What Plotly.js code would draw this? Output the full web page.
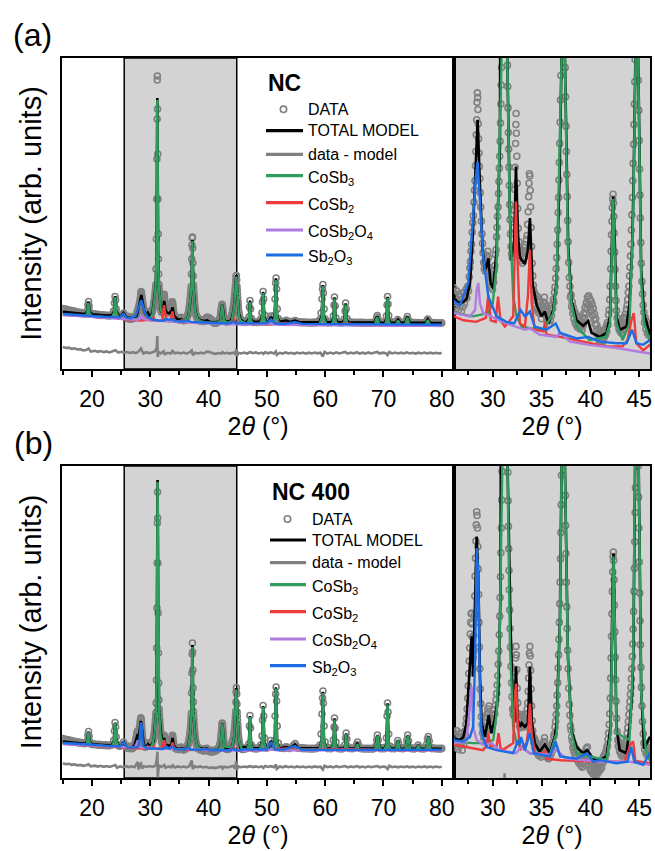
<!DOCTYPE html>
<html>
<head>
<meta charset="utf-8">
<script src="https://cdn.plot.ly/plotly-3.0.1.min.js"></script>
<style>
  html, body { margin: 0; padding: 0; background: #ffffff; }
  #chart { width: 655px; height: 851px; }
</style>
</head>
<body>
<div id="chart"></div>
<script>
// ---------------------------------------------------------------------------
// Rietveld refinement of XRD patterns, intensity in arbitrary units vs 2θ (°)
// Each list holds [2θ, intensity] pairs.
// ---------------------------------------------------------------------------

// ----- sample NC -----
const ncObs = [
  [15.0,60.5],[15.25,59.0],[15.5,60.0],[15.75,58.6],[16.0,59.2],[16.25,58.0],[16.5,58.4],[16.75,57.3],[17.0,57.9],[17.25,56.8],
  [17.5,57.0],[17.75,56.2],[18.0,56.6],[18.25,55.5],[18.5,55.9],[18.75,55.2],[19.0,55.8],[19.2,58.5],[19.3,64.0],[19.4,67.5],
  [19.5,63.0],[19.6,57.5],[19.8,55.5],[20.0,54.8],[20.25,55.3],[20.5,54.4],[20.75,54.9],[21.0,53.9],[21.25,54.5],[21.5,53.6],
  [21.75,54.2],[22.0,53.5],[22.25,54.0],[22.5,53.2],[22.75,53.8],[23.0,53.1],[23.25,53.7],[23.5,54.5],[23.7,58.0],[23.85,66.0],
  [23.95,72.5],[24.05,69.0],[24.15,60.0],[24.3,54.5],[24.5,53.5],[24.75,52.8],[25.0,53.4],[25.25,54.5],[25.4,56.0],[25.55,54.2],
  [25.75,52.6],
  [26.00,52.8],[26.08,50.6],[26.16,51.9],[26.24,50.2],[26.32,52.4],[26.40,51.0],[26.48,49.9],[26.56,52.0],[26.64,50.5],[26.72,51.6],
  [26.80,49.8],[26.88,51.3],[26.96,50.4],[27.04,52.2],[27.12,50.8],[27.20,51.7],[27.28,52.6],[27.36,51.5],[27.44,53.0],[27.52,52.4],
  [27.60,54.2],[27.66,55.3],[27.72,56.1],[27.78,57.4],[27.84,58.3],[27.90,59.8],[27.96,61.0],[28.02,61.9],[28.08,63.6],[28.14,65.1],
  [28.19,66.3],[28.24,68.2],[28.28,70.0],[28.32,72.1],[28.36,74.0],[28.40,76.2],[28.43,77.4],[28.46,76.8],[28.49,75.3],[28.52,73.5],
  [28.56,71.6],[28.60,69.8],[28.64,68.1],[28.68,66.6],[28.73,64.8],[28.78,63.0],[28.84,61.2],[28.90,59.6],[28.96,58.4],[29.02,57.2],
  [29.08,56.0],[29.14,55.2],[29.20,55.8],[29.26,54.9],[29.32,56.1],[29.38,56.9],[29.44,56.3],[29.50,57.4],[29.56,56.6],[29.62,55.4],
  [29.68,54.7],[29.74,53.6],[29.80,54.2],[29.86,52.9],[29.92,53.8],[29.98,52.6],[30.04,54.0],[30.10,53.5],[30.16,55.0],[30.22,55.6],
  [30.28,57.0],[30.34,57.6],[30.40,59.2],[30.45,60.4],[30.50,61.8],[30.55,63.0],[30.60,64.7],[30.64,66.2],[30.68,67.9],[30.72,69.4],
  [30.76,71.3],[30.80,73.6],[30.84,76.0],[30.87,78.4],[30.90,80.6],[30.93,84.0],[30.98,100],[31.04,130],[31.09,170],[31.13,210],
  [31.17,250],[31.19,289],[31.21,293],[31.24,260],[31.28,215],[31.32,170],[31.36,135],[31.40,110],[31.44,95.0],[31.48,84.5],
  [31.51,80.9],[31.54,78.2],[31.57,75.5],[31.60,72.4],[31.63,70.3],[31.66,68.0],[31.70,65.7],[31.74,63.3],[31.78,61.4],[31.83,59.6],
  [31.88,58.0],[31.93,57.1],[31.98,56.6],[32.04,57.8],[32.10,58.9],[32.16,60.4],[32.21,62.6],[32.26,65.2],[32.30,68.0],[32.34,71.0],
  [32.37,73.4],[32.40,74.8],[32.43,72.3],[32.47,69.4],[32.51,66.0],[32.56,62.8],[32.62,60.3],[32.68,58.6],[32.74,57.4],[32.80,56.8],
  [32.86,57.6],[32.92,56.2],[32.98,57.1],[33.04,55.9],[33.10,57.4],[33.16,56.5],[33.22,57.9],[33.28,56.7],[33.34,58.2],[33.40,57.5],
  [33.46,58.9],[33.52,59.4],[33.58,60.8],[33.63,62.4],[33.68,64.3],[33.72,66.0],[33.76,67.2],[33.80,66.9],[33.84,65.1],[33.88,63.0],
  [33.93,60.4],[33.98,58.0],[34.04,55.9],[34.10,54.3],[34.16,53.1],[34.22,52.4],[34.28,51.3],[34.34,52.0],[34.40,50.6],[34.46,51.5],
  [34.52,50.2],[34.58,51.7],[34.64,49.8],[34.70,50.9],[34.76,49.6],[34.82,51.1],[34.88,49.9],[34.94,50.6],[35.00,48.9],[35.06,50.4],
  [35.12,49.5],[35.18,51.0],[35.24,50.3],[35.30,51.6],[35.36,50.8],[35.42,49.7],[35.48,50.5],[35.54,48.8],[35.60,49.9],[35.66,48.6],
  [35.72,49.4],[35.78,48.2],[35.84,49.6],[35.90,48.7],[35.96,50.1],[36.02,49.3],[36.08,50.6],[36.14,50.2],[36.20,51.3],[36.26,51.0],
  [36.32,52.2],[36.38,52.9],[36.44,54.0],[36.50,55.2],[36.55,56.6],[36.60,58.3],[36.65,60.1],[36.70,62.3],[36.74,64.2],[36.78,66.4],
  [36.82,68.6],[36.86,71.0],[36.90,73.7],[36.94,76.5],[36.98,79.6],[37.01,82.5],[37.05,95.0],[37.10,110],[37.15,124],[37.20,131],
  [37.23,132],[37.27,121],[37.31,106],[37.35,93.0],[37.39,84.0],[37.42,80.6],[37.46,76.9],[37.50,73.2],[37.54,70.0],[37.58,67.1],
  [37.62,64.3],[37.67,61.3],[37.72,58.6],[37.78,56.0],[37.84,54.1],[37.90,53.0],[37.96,51.6],[38.02,51.9],[38.08,50.4],[38.14,51.0],
  [38.20,49.6],[38.26,50.3],[38.32,48.9],[38.38,49.8],[38.44,48.4],[38.50,49.5],[38.56,48.1],[38.62,49.2],[38.68,47.8],[38.74,49.0],
  [38.80,48.0],[38.86,49.1],[38.92,47.6],[38.98,48.7],[39.04,47.9],[39.10,48.6],[39.16,47.5],[39.22,48.9],[39.28,48.1],[39.34,49.6],
  [39.40,49.0],[39.46,50.3],[39.52,49.5],[39.58,50.9],[39.64,50.1],[39.70,51.6],[39.76,50.7],[39.82,51.8],[39.88,50.5],[39.94,51.4],
  [40.00,50.0],[40.06,51.1],[40.12,49.8],[40.18,50.7],[40.24,49.3],[40.30,50.2],[40.36,48.8],[40.42,49.5],[40.48,48.2],[40.54,48.9],
  [40.60,47.4],[40.66,48.1],[40.72,46.9],[40.78,47.6],[40.84,46.3],[40.90,47.2],[40.96,45.9],[41.02,46.9],[41.08,46.2],[41.14,47.1],
  [41.20,45.8],[41.26,46.8],[41.32,46.1],[41.38,47.4],[41.44,46.6],[41.50,47.6],[41.56,46.9],[41.62,47.9],[41.68,47.3],[41.74,48.4],
  [41.80,48.1],[41.86,49.4],[41.92,50.0],[41.98,51.3],[42.03,53.0],[42.08,55.2],[42.12,57.4],[42.16,59.5],[42.20,61.2],[42.24,62.9],
  [42.28,64.0],[42.32,64.6],[42.36,63.5],[42.40,61.8],[42.44,59.7],[42.48,57.3],[42.52,55.1],[42.57,53.0],[42.62,51.2],[42.68,49.9],
  [42.74,49.0],[42.80,48.2],[42.86,48.9],[42.92,47.6],[42.98,48.5],[43.04,47.3],[43.10,48.3],[43.16,47.1],[43.22,48.0],[43.28,47.6],
  [43.34,48.8],[43.40,48.2],[43.46,49.1],[43.52,48.4],[43.58,49.5],[43.64,49.0],[43.70,50.1],[43.76,50.6],[43.82,51.3],[43.88,52.2],
  [43.94,53.0],[44.00,54.3],[44.05,55.4],[44.10,56.8],[44.15,58.3],[44.20,60.1],[44.25,62.0],[44.30,64.2],[44.34,66.3],[44.38,68.5],
  [44.42,70.9],[44.46,73.4],[44.50,76.0],[44.54,78.8],[44.58,81.6],[44.62,85.0],[44.67,89.0],[44.72,93.0],[44.77,93.5],[44.82,89.0],
  [44.87,82.8],[44.91,79.0],[44.95,75.2],[44.99,71.4],[45.03,67.8],[45.07,64.5],[45.11,61.6],[45.16,58.5],[45.21,55.9],[45.27,53.6],
  [45.33,52.0],[45.40,50.6],[45.47,49.7],[45.54,48.4],[45.61,49.0],[45.68,47.6],[45.75,48.5],[45.82,47.1],[45.89,48.0],[45.96,46.8],
  [46.03,47.6],
  [46.25,46.6],[46.5,47.2],[46.75,48.0],[46.9,52.0],[47.0,62.0],[47.1,68.5],[47.2,60.0],[47.35,50.5],[47.5,47.8],[47.75,46.6],
  [48.0,47.3],[48.25,46.5],[48.5,47.1],[48.75,47.8],[48.95,50.0],[49.15,56.0],[49.25,67.0],[49.35,77.5],[49.45,70.0],[49.6,54.0],
  [49.8,48.5],[50.0,47.6],[50.25,48.2],[50.45,49.5],[50.65,53.0],[50.85,51.5],[51.05,49.0],[51.25,53.5],[51.4,70.0],[51.5,86.0],
  [51.58,91.0],[51.66,80.0],[51.78,60.0],[51.95,50.5],[52.15,47.8],[52.4,47.0],[52.65,47.6],[52.9,46.8],[53.15,47.9],[53.35,48.6],
  [53.6,47.4],[53.85,46.9],[54.1,47.5],[54.35,46.8],[54.6,47.6],[54.85,48.4],[55.1,47.5],[55.35,46.6],[55.6,47.2],[55.85,46.4],
  [56.1,47.0],[56.35,46.3],[56.6,46.9],[56.85,46.2],[57.1,46.8],[57.35,46.0],[57.6,46.7],[57.85,46.1],[58.1,46.9],[58.35,46.3],
  [58.6,47.0],[58.85,47.6],[59.1,49.5],[59.3,56.0],[59.45,70.0],[59.55,80.0],[59.62,84.5],[59.7,76.0],[59.82,60.0],[60.0,50.0],
  [60.2,47.5],[60.45,46.3],[60.7,46.9],[60.95,46.2],[61.2,47.5],[61.4,53.0],[61.52,64.0],[61.6,72.0],[61.7,63.0],[61.85,51.0],
  [62.1,47.0],[62.35,46.3],[62.6,46.8],[62.85,46.0],[63.1,46.8],[63.3,50.0],[63.42,58.0],[63.5,66.0],[63.6,60.0],[63.75,50.5],
  [63.95,47.8],[64.2,46.5],[64.45,47.0],[64.7,46.2],[64.95,46.8],[65.2,46.0],[65.45,46.7],[65.7,46.1],[65.95,46.8],[66.2,46.0],
  [66.45,46.6],[66.7,45.9],[66.95,46.5],[67.2,45.8],[67.45,46.4],[67.7,45.8],[67.95,46.5],[68.2,46.0],[68.45,46.7],[68.7,48.5],
  [68.85,52.0],[68.95,53.5],[69.1,49.5],[69.3,46.8],[69.55,46.0],[69.8,46.6],[70.05,46.2],[70.3,47.5],[70.5,53.0],[70.62,64.0],
  [70.7,72.5],[70.78,65.0],[70.9,53.5],[71.1,48.0],[71.35,46.3],[71.6,46.9],[71.85,46.0],[72.1,46.6],[72.3,47.6],[72.45,49.5],
  [72.6,48.0],[72.85,46.3],[73.1,46.8],[73.35,46.0],[73.6,46.5],[73.85,47.2],[74.0,50.0],[74.1,52.5],[74.25,49.5],[74.45,46.6],
  [74.7,46.0],[74.95,46.6],[75.2,45.9],[75.45,46.5],[75.7,45.8],[75.95,46.4],[76.2,45.8],[76.45,46.3],[76.7,45.7],[76.95,46.2],
  [77.2,46.8],[77.45,48.5],[77.6,50.0],[77.75,48.0],[78.0,46.3],[78.25,45.8],[78.5,46.4],[78.75,45.7],[79.0,46.3],[79.25,45.6],
  [79.5,46.2],[79.75,45.5],[80.0,46.1]
];
const ncCalc = [
  [15,57.3],[17,56.0],[18.8,55.0],[19.15,57.5],[19.36,67.3],[19.6,57.5],[20.0,54.6],[22,53.8],[23.4,53.4],[23.75,57.5],
  [23.97,72.8],[24.2,57.5],[24.6,53.2],[25.0,53.0],[25.4,56.0],[25.8,52.6],[26.04,51.5],[26.5,50.9],[27.0,51.0],[27.33,51.4],
  [27.68,53.4],[27.95,59.3],[28.19,66.4],[28.46,74.0],[28.7,65.5],[28.97,57.6],[29.2,55.0],[29.38,55.5],[29.55,56.5],[29.79,53.4],
  [30.06,52.7],[30.4,57.6],[30.74,70.6],[30.91,82.0],[31.05,112],[31.2,271],[31.35,112],[31.49,82.0],[31.76,62.2],[31.9,56.3],
  [32.2,58.5],[32.38,68.1],[32.6,59.3],[32.78,56.7],[32.96,56.3],[33.3,55.8],[33.6,57.5],[33.81,61.6],[34.08,53.4],[34.5,50.6],
  [35.0,49.2],[35.34,49.8],[35.7,48.3],[36.2,50.0],[36.54,53.6],[36.85,67.0],[37.05,82.0],[37.22,129],[37.39,82.0],[37.73,58.0],
  [38.07,51.2],[38.58,48.7],[39.26,48.0],[39.78,48.6],[40.12,47.1],[40.97,46.6],[41.65,47.1],[42.0,49.2],[42.2,58.5],[42.33,64.3],
  [42.5,58.5],[42.67,49.2],[43.0,47.5],[43.7,47.9],[44.0,50.8],[44.27,58.0],[44.42,66.0],[44.58,82.0],[44.75,94.0],[44.89,82.0],
  [45.2,55.0],[45.5,49.5],[46.08,47.0],[46.6,47.3],[46.9,50.0],[47.1,68.3],[47.3,50.0],[47.6,47.2],[48.8,47.2],[49.15,52.0],
  [49.36,77.3],[49.57,52.0],[49.9,47.3],[50.3,47.5],[50.7,52.0],[51.1,48.0],[51.35,54.0],[51.55,90.7],[51.75,54.0],[52.1,47.2],
  [53.3,48.3],[54.0,47.0],[54.8,48.3],[55.5,46.9],[57,46.8],[59.0,46.8],[59.4,53.0],[59.6,84.0],[59.8,53.0],[60.2,46.7],
  [61.1,46.7],[61.4,50.5],[61.6,71.7],[61.8,50.5],[62.1,46.6],[63.0,46.6],[63.3,49.0],[63.5,65.7],[63.7,49.0],[64.0,46.8],
  [64.5,46.5],[67,46.4],[68.5,46.4],[68.9,53.0],[69.3,46.4],[70.2,46.3],[70.5,50.0],[70.7,72.3],[70.9,50.0],[71.2,46.3],
  [72.1,46.3],[72.5,49.5],[72.9,46.2],[73.7,46.2],[74.1,52.3],[74.5,46.2],[77.2,46.1],[77.6,49.8],[78.0,46.1],[80,46.0]
];
const ncDiff = [
  [15,22.0],[15.5,21.0],[16,21.4],[16.5,20.2],[17,20.6],[17.5,19.5],[18,19.8],[18.5,18.6],[19,19.0],[19.4,20.5],
  [19.8,17.5],[20.5,18.2],[21,17.2],[21.5,18.0],[22,16.9],[22.5,17.6],[23,16.6],[23.5,17.4],[24,18.8],[24.5,16.5],
  [25,17.2],[25.5,16.4],[26,17.0],[26.5,16.0],[27,16.8],[27.5,15.8],[28,17.5],[28.4,20.5],[28.8,15.5],[29.3,16.8],
  [29.8,15.9],[30.3,16.6],[30.8,17.8],[31.1,21.0],[31.2,33.0],[31.27,12.0],[31.4,17.0],[31.8,15.6],[32.3,17.8],[32.5,14.8],
  [33.0,16.2],[33.5,15.5],[33.8,18.0],[34.2,15.8],[34.7,16.5],[35.2,15.6],[35.7,16.4],[36.2,15.4],[36.7,16.6],[37.1,18.5],
  [37.3,13.8],[37.7,16.2],[38.2,15.5],[38.7,16.3],[39.2,15.6],[39.7,17.4],[40.2,17.0],[40.7,15.8],[41.2,15.2],[41.7,16.0],
  [42.2,15.4],[42.4,17.0],[42.7,15.6],[43.2,16.2],[43.7,15.4],[44.2,16.4],[44.6,15.0],[44.75,20.0],[44.85,12.5],[45.1,16.2],
  [45.6,15.6],[46.1,16.4],[46.6,15.4],[47.1,17.0],[47.6,15.8],[48.1,16.6],[48.6,15.6],[49.1,16.4],[49.4,15.0],[49.7,16.8],
  [50.2,15.7],[50.7,16.6],[51.2,15.5],[51.55,17.5],[51.7,14.2],[52.2,16.2],[52.7,15.4],[53.2,16.6],[53.7,15.6],[54.2,16.2],
  [54.7,15.2],[55.2,16.4],[55.7,15.6],[56.2,16.5],[56.7,15.4],[57.2,16.3],[57.7,15.5],[58.2,16.4],[58.7,15.7],[59.2,16.2],
  [59.6,12.5],[59.9,17.2],[60.4,15.5],[60.9,16.4],[61.4,15.3],[61.9,16.6],[62.4,15.5],[62.9,16.2],[63.4,17.0],[63.9,15.4],
  [64.4,16.5],[64.9,15.6],[65.4,16.8],[65.9,15.5],[66.4,16.3],[66.9,15.4],[67.4,16.6],[67.9,15.6],[68.4,16.4],[68.9,17.0],
  [69.4,15.5],[69.9,16.3],[70.4,15.8],[70.7,14.0],[71.0,17.0],[71.5,15.6],[72.0,16.4],[72.5,15.5],[73.0,16.3],[73.5,15.6],
  [74.0,16.6],[74.5,15.5],[75.0,16.2],[75.5,15.4],[76.0,16.3],[76.5,15.6],[77.0,16.4],[77.5,15.5],[78.0,16.3],[78.5,15.5],
  [79.0,16.2],[79.5,15.6],[80.0,16.0]
];
const ncCoSb3 = [
  [15,54.5],[17,53.7],[18.8,53.0],[19.15,55.5],[19.36,66.0],[19.6,55.5],[20.0,52.8],[22,52.0],[23.4,51.6],[23.75,56.0],
  [23.97,72.0],[24.2,56.0],[24.6,51.3],[26.04,49.6],[28.0,49.2],[29.5,49.6],[30.0,50.8],[30.4,55.5],[30.7,70.2],[30.91,81.8],
  [31.05,110],[31.2,269],[31.35,110],[31.49,81.8],[31.76,61.8],[32.1,51.7],[32.45,49.2],[32.96,47.9],[33.8,47.7],[35.2,47.5],
  [36.2,49.6],[36.54,53.4],[36.88,70.2],[37.05,81.8],[37.22,128],[37.39,81.8],[37.7,57.6],[38.07,50.8],[38.58,47.9],[39.9,46.2],
  [41.6,46.6],[42.0,48.3],[42.2,57.6],[42.33,64.0],[42.47,57.6],[42.67,48.3],[43.3,46.2],[44.0,48.3],[44.38,61.8],[44.58,81.8],
  [44.75,92.5],[44.89,81.8],[45.2,53.4],[45.5,48.3],[46.08,46.2],[46.6,45.0],[46.9,48.5],[47.1,67.0],[47.3,48.5],[47.6,44.9],
  [48.8,44.9],[49.15,50.0],[49.36,76.0],[49.57,50.0],[49.9,44.8],[51.0,44.8],[51.35,52.0],[51.55,89.0],[51.75,52.0],[52.1,44.7],
  [55,44.5],[59.0,44.5],[59.4,51.0],[59.6,83.0],[59.8,51.0],[60.2,44.4],[61.1,44.4],[61.4,48.5],[61.6,70.5],[61.8,48.5],
  [62.1,44.3],[63.0,44.3],[63.3,47.0],[63.5,64.5],[63.7,47.0],[64.0,44.3],[67,44.2],[68.5,44.2],[68.9,52.0],[69.3,44.2],
  [70.2,44.1],[70.5,48.0],[70.7,71.0],[70.9,48.0],[71.2,44.1],[72.1,44.1],[72.5,48.5],[72.9,44.0],[73.7,44.0],[74.1,51.5],
  [74.5,44.0],[77.2,43.9],[77.6,49.0],[78.0,43.9],[80,43.8]
];
const ncCoSb2 = [
  [15,54.3],[20,52.3],[24,50.9],[26.04,49.2],[27.0,48.7],[28.3,48.5],[29.3,49.0],[29.55,51.9],[29.8,48.7],[30.3,48.5],
  [30.55,51.7],[30.8,48.7],[31.25,47.9],[32.1,49.2],[32.3,61.8],[32.38,63.7],[32.5,57.6],[32.78,48.3],[33.3,47.9],[33.6,51.7],
  [33.81,57.6],[34.0,50.8],[34.3,47.5],[35.2,47.3],[35.34,48.5],[35.5,46.9],[36.9,46.6],[39.26,46.0],[41.6,45.4],[43.3,45.4],
  [43.8,46.2],[44.2,48.7],[44.44,49.6],[44.7,45.8],[45.4,44.9],[46.08,45.6],[47.5,44.8],[50,44.4],[53.3,46.0],[55,44.2],
  [60,44.0],[63.9,45.5],[66,43.9],[70,43.7],[75,43.5],[80,43.4]
];
const ncCoSb2O4 = [
  [15,54.0],[18,52.8],[20,52.0],[22,51.3],[24,50.6],[26.04,49.6],[27.68,49.2],[28.2,50.0],[28.36,52.5],[28.53,53.4],
  [28.7,50.8],[29.03,49.6],[30.06,49.0],[31.4,48.3],[33.3,47.5],[33.8,47.7],[34.8,46.9],[36.5,46.6],[36.9,47.1],[37.9,46.0],
  [39.9,45.6],[42.7,45.2],[46.08,44.5],[49.3,44.8],[50.7,45.2],[52,44.2],[55,44.0],[60,43.8],[65,43.7],[70,43.5],
  [75,43.3],[80,43.2]
];
const ncSb2O3 = [
  [15,55.0],[17,54.0],[19.4,53.5],[22,52.2],[24.8,51.6],[25.4,55.0],[25.9,51.4],[26.04,51.1],[26.65,50.6],[27.5,53.4],
  [28.0,61.8],[28.27,66.8],[28.46,68.7],[28.7,63.9],[29.03,56.7],[29.55,51.7],[30.4,49.2],[31.4,48.5],[32.2,48.3],[32.85,50.0],
  [33.3,49.2],[33.8,49.8],[34.3,47.9],[35.5,47.5],[36.45,48.3],[36.9,47.1],[38.58,46.4],[39.78,46.6],[40.97,46.0],[42.67,45.8],
  [43.7,45.8],[44.27,47.5],[44.72,45.8],[45.4,45.6],[46.08,46.2],[46.8,45.6],[48.5,45.4],[50.0,45.8],[50.7,49.5],[51.4,45.5],
  [53,45.3],[54.8,46.8],[56,45.1],[60,44.9],[65,44.7],[70,44.5],[75,44.3],[80,44.2]
];

// ----- sample NC 400 -----
const nc400Obs = [
  [15.0,39.5],[15.25,38.0],[15.5,38.8],[15.75,37.4],[16.0,38.2],[16.25,36.9],[16.5,37.5],[16.75,36.2],[17.0,36.8],[17.25,35.6],
  [17.5,36.2],[17.75,35.0],[18.0,35.7],[18.25,34.6],[18.5,35.2],[18.75,34.3],[19.0,35.0],[19.2,37.5],[19.3,43.0],[19.4,46.5],
  [19.5,42.0],[19.6,36.5],[19.8,34.2],[20.0,33.5],[20.25,34.1],[20.5,33.2],[20.75,33.8],[21.0,32.9],[21.25,33.6],[21.5,32.7],
  [21.75,33.3],[22.0,32.5],[22.25,33.1],[22.5,32.3],[22.75,33.0],[23.0,32.2],[23.25,32.8],[23.5,33.5],[23.7,37.5],[23.85,47.0],
  [23.95,55.5],[24.05,51.0],[24.15,41.0],[24.3,33.5],[24.5,32.5],[24.75,31.8],[25.0,32.4],[25.25,33.5],[25.4,36.0],[25.55,33.4],
  [25.75,31.6],
  [26.00,31.6],[26.08,30.1],[26.16,31.2],[26.24,29.7],[26.32,31.8],[26.40,30.4],[26.48,29.4],[26.56,31.0],[26.64,29.9],[26.72,31.5],
  [26.80,30.2],[26.88,29.3],[26.96,31.1],[27.04,30.0],[27.12,31.7],[27.20,31.2],[27.26,32.6],[27.32,33.4],[27.38,34.6],[27.44,36.0],
  [27.50,37.6],[27.55,39.2],[27.60,40.8],[27.65,42.5],[27.70,44.3],[27.75,45.8],[27.80,46.9],[27.84,47.0],[27.88,45.6],[27.92,43.9],
  [27.96,42.4],[28.00,41.2],[28.04,42.0],[28.08,44.1],[28.12,46.7],[28.16,49.2],[28.20,51.8],[28.24,54.1],[28.28,56.3],[28.32,58.4],
  [28.36,60.1],[28.40,59.6],[28.44,58.0],[28.48,55.6],[28.52,52.7],[28.56,49.4],[28.60,45.8],[28.64,42.6],[28.68,39.8],[28.73,37.2],
  [28.78,35.3],[28.84,33.6],[28.90,32.6],[28.96,31.5],[29.02,32.1],[29.08,30.9],[29.14,31.8],[29.20,31.0],[29.26,32.2],[29.32,32.9],
  [29.38,33.5],[29.44,34.0],[29.50,34.6],[29.56,34.2],[29.62,35.0],[29.68,33.6],[29.74,32.7],[29.80,33.3],[29.86,31.9],[29.92,32.6],
  [29.98,33.4],[30.04,32.8],[30.10,33.9],[30.16,34.5],[30.22,34.0],[30.28,35.1],[30.34,35.8],[30.40,36.6],[30.46,37.7],[30.52,38.9],
  [30.57,40.4],[30.62,42.1],[30.67,44.2],[30.72,46.6],[30.76,49.0],[30.80,51.7],[30.84,54.8],[30.88,58.0],[30.92,61.6],[30.96,65.3],
  [31.00,75.0],[31.05,98.0],[31.10,130],[31.14,170],[31.18,215],[31.21,255],[31.24,286],[31.27,260],[31.31,215],[31.35,165],
  [31.40,125],[31.45,95.0],[31.49,78.0],[31.52,69.0],[31.55,65.2],[31.58,61.5],[31.61,58.2],[31.64,55.3],[31.67,52.5],[31.70,50.0],
  [31.74,47.4],[31.78,45.0],[31.82,42.6],[31.87,40.1],[31.92,38.0],[31.98,36.2],[32.04,34.6],[32.10,33.9],[32.16,34.6],[32.21,35.8],
  [32.26,37.7],[32.30,39.4],[32.34,41.2],[32.38,42.7],[32.42,41.6],[32.46,39.7],[32.51,37.3],[32.56,35.4],[32.62,34.0],[32.68,33.2],
  [32.74,32.4],[32.80,33.5],[32.86,32.2],[32.92,33.7],[32.98,32.6],[33.04,33.9],[33.10,32.8],[33.16,33.6],[33.22,32.3],[33.28,33.5],
  [33.34,32.9],[33.40,34.0],[33.46,33.3],[33.52,34.6],[33.58,35.4],[33.63,36.9],[33.68,38.6],[33.72,40.3],[33.76,41.8],[33.80,42.7],
  [33.84,41.5],[33.88,39.6],[33.93,37.2],[33.98,35.0],[34.04,33.1],[34.10,31.8],[34.16,31.0],[34.22,30.3],[34.28,30.8],[34.34,29.6],
  [34.40,30.4],[34.46,29.2],[34.52,30.1],[34.58,28.9],[34.64,29.7],[34.70,28.6],[34.76,29.9],[34.82,28.8],[34.88,29.5],[34.94,28.4],
  [35.00,29.6],[35.06,28.7],[35.12,29.9],[35.18,29.3],[35.24,30.4],[35.30,30.9],[35.36,30.2],[35.42,29.4],[35.48,28.6],[35.54,29.5],
  [35.60,28.3],[35.66,29.1],[35.72,28.2],[35.78,29.3],[35.84,28.4],[35.90,29.6],[35.96,28.8],[36.02,29.9],[36.08,29.2],[36.14,30.3],
  [36.20,30.0],[36.26,31.1],[36.32,31.4],[36.38,32.3],[36.44,33.0],[36.50,33.9],[36.55,35.0],[36.60,36.4],[36.65,38.0],[36.70,39.9],
  [36.74,41.6],[36.78,43.6],[36.82,45.8],[36.86,48.2],[36.90,51.0],[36.94,54.0],[36.98,57.4],[37.01,61.0],[37.04,64.8],[37.08,85.0],
  [37.13,105],[37.18,124],[37.22,135],[37.26,126],[37.30,108],[37.34,90.0],[37.38,76.0],[37.41,66.5],[37.44,62.2],[37.47,58.3],
  [37.50,54.7],[37.54,51.0],[37.58,47.8],[37.62,45.0],[37.67,42.2],[37.72,39.8],[37.78,37.3],[37.84,35.2],[37.90,33.8],[37.96,32.4],
  [38.02,31.9],[38.08,31.0],[38.14,30.5],[38.20,29.6],[38.26,30.2],[38.32,29.1],[38.38,29.8],[38.44,28.7],[38.50,29.5],[38.56,28.4],
  [38.62,29.2],[38.68,28.0],[38.74,28.9],[38.80,27.7],[38.86,28.6],[38.92,27.5],[38.98,28.4],[39.04,27.3],[39.10,28.2],[39.16,27.1],
  [39.22,28.5],[39.28,27.6],[39.34,28.8],[39.40,27.9],[39.46,29.1],[39.52,28.3],[39.58,29.5],[39.64,28.8],[39.70,29.7],[39.76,28.2],
  [39.82,27.4],[39.88,28.0],[39.94,26.9],[40.00,27.7],[40.06,26.6],[40.12,27.5],[40.18,26.4],[40.24,27.3],[40.30,26.2],[40.36,27.2],
  [40.42,26.5],[40.48,27.6],[40.54,26.3],[40.60,27.4],[40.66,26.1],[40.72,27.0],[40.78,26.4],[40.84,27.3],[40.90,26.6],[40.96,27.5],
  [41.02,26.8],[41.08,27.8],[41.14,27.0],[41.20,28.0],[41.26,27.6],[41.32,28.4],[41.38,27.9],[41.44,28.7],[41.50,28.3],[41.56,29.1],
  [41.62,28.8],[41.68,29.6],[41.74,29.9],[41.80,30.7],[41.86,31.5],[41.92,32.6],[41.98,34.0],[42.03,36.0],[42.08,38.6],[42.12,41.2],
  [42.16,44.0],[42.20,46.9],[42.24,49.8],[42.28,52.3],[42.32,54.3],[42.35,54.9],[42.38,53.8],[42.42,51.3],[42.46,48.0],[42.50,44.6],
  [42.54,41.3],[42.58,38.4],[42.63,35.6],[42.68,33.4],[42.74,31.7],[42.80,30.6],[42.86,29.8],[42.92,30.4],[42.98,29.2],[43.04,29.9],
  [43.10,28.8],[43.16,29.6],[43.22,28.5],[43.28,29.4],[43.34,28.7],[43.40,29.6],[43.46,28.9],[43.52,29.8],[43.58,29.4],[43.64,30.3],
  [43.70,30.7],[43.76,31.5],[43.82,32.2],[43.88,33.0],[43.94,33.9],[44.00,34.8],[44.05,35.6],[44.10,36.5],[44.15,37.4],[44.20,38.5],
  [44.25,39.8],[44.30,41.4],[44.34,43.0],[44.38,44.9],[44.42,47.2],[44.46,49.8],[44.50,52.8],[44.54,56.2],[44.58,60.0],[44.61,63.2],
  [44.64,66.8],[44.68,76.0],[44.72,86.0],[44.77,90.5],[44.82,84.0],[44.86,74.0],[44.90,66.0],[44.93,62.0],[44.96,58.0],[45.00,53.6],
  [45.04,49.6],[45.08,46.0],[45.12,42.9],[45.17,40.0],[45.22,37.4],[45.28,35.0],[45.34,33.0],[45.41,31.4],[45.48,30.2],[45.55,29.4],
  [45.62,30.0],[45.69,28.9],[45.76,29.7],[45.83,28.6],[45.90,29.5],[45.97,28.8],[46.04,29.9],
  [46.25,29.0],[46.5,29.6],[46.75,30.5],[46.9,34.0],[47.0,52.0],[47.1,62.5],[47.2,50.0],[47.35,33.0],[47.5,30.2],[47.75,29.2],
  [48.0,29.9],[48.25,29.1],[48.5,29.7],[48.75,30.5],[48.95,33.0],[49.15,42.0],[49.25,58.0],[49.35,72.5],[49.45,62.0],[49.6,40.0],
  [49.8,31.0],[50.0,30.0],[50.25,30.8],[50.45,33.0],[50.65,37.5],[50.85,34.0],[51.05,31.5],[51.25,37.0],[51.4,62.0],[51.5,84.0],
  [51.58,91.0],[51.66,77.0],[51.78,52.0],[51.95,35.0],[52.15,30.5],[52.4,29.7],[52.65,30.4],[52.9,29.5],[53.15,30.6],[53.35,31.2],
  [53.6,30.0],[53.85,29.6],[54.1,30.4],[54.35,31.2],[54.6,33.0],[54.85,34.5],[55.1,31.6],[55.35,29.8],[55.6,30.3],[55.85,29.5],
  [56.1,30.1],[56.35,29.3],[56.6,29.9],[56.85,29.2],[57.1,29.8],[57.35,29.1],[57.6,29.7],[57.85,29.0],[58.1,29.8],[58.35,29.2],
  [58.6,29.9],[58.85,30.6],[59.1,33.0],[59.3,44.0],[59.45,64.0],[59.55,80.0],[59.62,87.0],[59.7,75.0],[59.82,52.0],[60.0,36.0],
  [60.2,30.8],[60.45,29.4],[60.7,30.0],[60.95,29.2],[61.2,31.0],[61.4,38.0],[61.52,51.0],[61.6,60.0],[61.7,50.0],[61.85,36.0],
  [62.1,30.2],[62.35,29.2],[62.6,29.8],[62.85,29.0],[63.1,29.8],[63.35,33.0],[63.5,40.0],[63.6,45.0],[63.72,39.0],[63.9,31.5],
  [64.15,29.5],[64.4,29.9],[64.65,29.2],[64.9,29.8],[65.2,30.6],[65.4,33.5],[65.55,36.0],[65.7,33.0],[65.95,29.8],[66.2,29.2],
  [66.45,29.8],[66.7,29.1],[66.95,29.7],[67.2,29.0],[67.45,29.6],[67.7,29.0],[67.95,29.7],[68.2,29.1],[68.45,29.9],[68.7,32.0],
  [68.85,38.0],[68.95,43.0],[69.1,38.0],[69.3,30.8],[69.55,29.2],[69.8,29.8],[70.05,29.3],[70.3,31.0],[70.5,40.0],[70.62,62.0],
  [70.7,75.0],[70.78,66.0],[70.9,44.0],[71.1,32.0],[71.35,29.4],[71.6,30.0],[71.85,29.2],[72.1,29.9],[72.3,32.0],[72.45,37.5],
  [72.6,34.5],[72.85,29.6],[73.1,30.1],[73.35,29.2],[73.6,29.8],[73.85,31.5],[74.0,38.0],[74.15,43.0],[74.3,37.0],[74.5,30.2],
  [74.75,29.4],[75.0,29.9],[75.25,29.1],[75.5,29.7],[75.75,30.5],[75.95,33.0],[76.15,31.0],[76.4,29.3],[76.65,29.9],[76.9,29.1],
  [77.15,30.0],[77.4,33.5],[77.55,39.0],[77.7,41.5],[77.85,37.0],[78.05,30.6],[78.3,29.4],[78.55,30.0],[78.8,29.2],[79.05,29.8],
  [79.3,29.1],[79.55,29.7],[79.8,29.0],[80.0,29.6]
];
const nc400Calc = [
  [15,36.5],[17,35.3],[18.8,34.3],[19.15,36.5],[19.38,46.3],[19.6,36.5],[20.0,33.8],[22,33.0],[23.4,32.6],[23.75,37.5],
  [23.97,55.5],[24.2,37.5],[24.6,32.3],[25.0,32.2],[25.4,36.5],[25.8,31.8],[26.04,30.8],[26.65,30.6],[27.0,31.0],[27.3,32.8],
  [27.6,38.8],[27.85,44.0],[28.0,38.8],[28.2,49.6],[28.36,56.9],[28.53,51.7],[28.7,38.8],[28.87,32.8],[29.2,31.0],[29.6,33.8],
  [29.85,31.5],[30.2,33.2],[30.57,36.6],[30.8,49.6],[30.98,66.2],[31.1,121],[31.25,298],[31.4,121],[31.52,66.2],[31.83,45.3],
  [32.1,33.2],[32.2,32.8],[32.38,40.1],[32.55,33.2],[32.78,32.3],[32.96,32.8],[33.3,32.3],[33.6,32.8],[33.81,40.1],[34.0,33.2],
  [34.3,30.2],[34.8,29.1],[35.34,30.0],[35.85,28.9],[36.35,31.0],[36.54,32.8],[36.88,46.0],[37.05,66.2],[37.22,133],[37.39,66.2],
  [37.7,41.5],[38.07,31.8],[38.58,29.7],[39.26,28.9],[39.67,29.3],[40.29,28.2],[40.97,28.0],[41.65,28.5],[42.06,32.3],[42.26,49.6],
  [42.37,54.7],[42.5,45.3],[42.67,32.3],[43.0,29.3],[43.7,28.9],[44.0,32.3],[44.27,36.6],[44.4,42.0],[44.56,66.2],[44.75,90.0],
  [44.94,66.2],[45.2,37.0],[45.5,29.5],[46.08,31.0],[46.6,29.8],[46.9,34.0],[47.1,62.0],[47.3,34.0],[47.6,29.8],[48.8,29.8],
  [49.15,36.0],[49.36,72.0],[49.57,36.0],[49.9,29.8],[50.3,30.2],[50.7,37.0],[51.1,30.3],[51.35,38.0],[51.55,90.7],[51.75,38.0],
  [52.1,29.7],[53.3,30.8],[54.0,29.7],[54.8,33.5],[55.5,29.6],[57,29.6],[59.0,29.6],[59.4,38.0],[59.6,86.3],[59.8,38.0],
  [60.2,29.5],[61.1,29.5],[61.4,34.0],[61.6,59.7],[61.8,34.0],[62.1,29.5],[63.2,29.5],[63.4,31.5],[63.6,44.7],[63.8,31.5],
  [64.0,29.5],[65.2,29.5],[65.5,35.0],[65.8,29.5],[68.6,29.4],[69.0,43.0],[69.4,29.4],[70.2,29.4],[70.5,34.0],[70.7,74.7],
  [70.9,34.0],[71.2,29.4],[72.2,29.4],[72.5,38.0],[72.8,29.4],[73.8,29.3],[74.2,43.0],[74.6,29.3],[75.7,29.3],[76.0,33.0],
  [76.3,29.3],[77.3,29.3],[77.7,41.3],[78.1,29.3],[80,29.2]
];
const nc400Diff = [
  [15,14.7],[15.5,13.8],[16,14.2],[16.5,13.2],[17,13.6],[17.5,12.7],[18,13.1],[18.5,12.2],[19,12.7],[19.4,13.8],
  [19.8,11.6],[20.5,12.3],[21,11.4],[21.5,12.2],[22,11.2],[22.5,12.0],[23,11.1],[23.5,11.9],[24,13.0],[24.3,10.2],
  [24.8,11.6],[25.3,10.8],[25.8,11.8],[26.3,10.9],[26.8,11.7],[27.3,10.8],[27.85,16.0],[28.0,8.5],[28.2,13.5],[28.4,14.5],
  [28.6,9.5],[28.9,11.8],[29.4,11.0],[29.9,12.0],[30.4,11.2],[30.9,12.4],[31.15,20.0],[31.22,26.3],[31.28,0.5],[31.35,6.0],
  [31.5,12.8],[31.9,11.0],[32.4,13.0],[32.6,10.2],[33.1,11.6],[33.6,10.8],[33.85,12.8],[34.2,10.6],[34.7,11.6],[35.2,10.8],
  [35.7,11.5],[36.2,10.7],[36.7,11.8],[37.1,17.5],[37.3,9.0],[37.6,11.8],[38.1,10.9],[38.6,11.6],[39.1,10.6],[39.6,11.2],
  [40.1,10.0],[40.6,10.6],[41.1,9.9],[41.6,10.8],[42.2,11.6],[42.4,9.5],[42.7,11.4],[43.2,10.6],[43.7,11.4],[44.2,12.0],
  [44.6,9.5],[44.72,17.0],[44.85,8.0],[45.1,11.6],[45.6,10.8],[46.1,11.5],[46.6,10.9],[47.1,11.8],[47.6,10.9],[48.1,11.6],
  [48.6,10.8],[49.1,11.5],[49.4,10.0],[49.7,12.0],[50.2,11.0],[50.7,11.8],[51.2,10.8],[51.55,13.5],[51.7,9.2],[52.2,11.5],
  [52.7,10.7],[53.2,11.8],[53.7,10.8],[54.2,11.5],[54.7,10.6],[55.2,11.6],[55.7,10.8],[56.2,11.5],[56.7,10.6],[57.2,11.4],
  [57.7,10.7],[58.2,11.6],[58.7,10.9],[59.2,11.4],[59.6,8.5],[59.9,12.2],[60.4,10.8],[60.9,11.6],[61.4,10.6],[61.9,11.8],
  [62.4,10.8],[62.9,11.5],[63.4,12.0],[63.9,10.6],[64.4,11.6],[64.9,10.8],[65.4,11.9],[65.9,10.7],[66.4,11.5],[66.9,10.6],
  [67.4,11.7],[67.9,10.8],[68.4,11.5],[68.9,12.0],[69.4,10.7],[69.9,11.4],[70.4,11.0],[70.7,9.0],[71.0,12.2],[71.5,10.8],
  [72.0,11.5],[72.5,10.7],[73.0,11.5],[73.5,10.8],[74.0,11.7],[74.5,10.7],[75.0,11.4],[75.5,10.6],[76.0,11.5],[76.5,10.8],
  [77.0,11.6],[77.5,10.7],[78.0,11.4],[78.5,10.7],[79.0,11.4],[79.5,10.8],[80.0,11.2]
];
const nc400CoSb3 = [
  [15,34.8],[17,33.9],[18.8,33.2],[19.15,35.5],[19.38,46.0],[19.6,35.5],[20.0,32.8],[22,32.1],[23.4,31.7],[23.75,36.5],
  [23.97,55.0],[24.2,36.5],[24.6,31.4],[26.04,30.4],[28.0,30.2],[29.0,30.2],[30.06,30.6],[30.4,34.1],[30.74,45.3],[30.98,66.0],
  [31.1,120],[31.25,296],[31.4,120],[31.52,66.0],[31.76,43.1],[32.1,32.3],[32.45,30.2],[33.8,28.9],[35.85,28.7],[36.54,31.5],
  [36.88,45.3],[37.05,66.0],[37.22,131],[37.39,66.0],[37.7,41.0],[38.07,31.5],[38.58,28.9],[41.65,28.0],[42.06,31.5],[42.26,47.4],
  [42.37,54.3],[42.5,45.3],[42.67,31.5],[44.0,30.6],[44.38,41.0],[44.56,66.0],[44.75,88.5],[44.94,66.0],[45.2,36.6],[45.7,28.9],
  [46.08,28.0],[46.6,28.6],[46.9,33.0],[47.1,61.0],[47.3,33.0],[47.6,28.6],[48.8,28.6],[49.15,35.0],[49.36,71.0],[49.57,35.0],
  [49.9,28.6],[51.0,28.6],[51.35,37.0],[51.55,89.5],[51.75,37.0],[52.1,28.5],[55,28.5],[59.0,28.5],[59.4,37.0],[59.6,85.0],
  [59.8,37.0],[60.2,28.4],[61.1,28.4],[61.4,33.0],[61.6,58.5],[61.8,33.0],[62.1,28.4],[63.2,28.4],[63.4,30.5],[63.6,44.0],
  [63.8,30.5],[64.0,28.4],[65.2,28.4],[65.5,34.0],[65.8,28.4],[68.6,28.3],[69.0,42.5],[69.4,28.3],[70.2,28.3],[70.5,33.0],
  [70.7,73.5],[70.9,33.0],[71.2,28.3],[72.2,28.3],[72.5,37.5],[72.8,28.3],[73.8,28.2],[74.2,42.5],[74.6,28.2],[75.7,28.2],
  [76.0,32.5],[76.3,28.2],[77.3,28.2],[77.7,40.8],[78.1,28.2],[80,28.1]
];
const nc400CoSb2 = [
  [15,34.3],[20,32.6],[24,31.3],[26.04,30.0],[27.3,29.7],[29.0,29.3],[29.4,29.9],[29.55,31.5],[29.75,29.8],[30.4,29.8],
  [30.6,31.5],[30.8,29.6],[31.0,29.3],[32.1,30.2],[32.27,36.6],[32.4,37.9],[32.55,33.2],[32.78,29.3],[33.47,30.2],[33.65,32.0],
  [33.81,35.3],[34.0,31.5],[34.3,28.9],[35.2,28.9],[35.34,29.3],[35.5,28.2],[37,28.0],[40.97,27.8],[43.5,27.8],[44.17,30.2],
  [44.38,30.4],[44.6,27.9],[46.08,27.6],[50,28.0],[53.3,29.5],[55,28.0],[63.9,28.8],[70,27.9],[80,27.8]
];
const nc400CoSb2O4 = [
  [15,34.0],[18,33.0],[20,32.4],[22,31.8],[24,31.2],[26.04,30.2],[27.3,30.4],[27.6,34.1],[27.85,37.5],[28.0,32.3],
  [28.36,30.6],[29.0,30.0],[29.9,30.2],[30.7,29.3],[32.4,28.9],[32.9,29.7],[33.8,28.9],[35.85,28.7],[36.54,29.3],[37.5,28.2],
  [41,27.8],[44,27.8],[46.08,27.4],[50,27.8],[50.7,28.5],[52,27.8],[60,27.8],[70,27.7],[80,27.6]
];
const nc400Sb2O3 = [
  [15,35.0],[17,34.0],[19.4,33.5],[22,32.4],[24.8,31.6],[25.4,36.0],[25.9,31.3],[26.04,30.6],[27.0,30.4],[27.68,31.0],
  [28.0,32.3],[28.2,41.0],[28.36,55.4],[28.53,51.7],[28.7,36.6],[28.87,31.5],[29.38,29.7],[30.4,29.3],[32.1,28.9],[32.6,30.6],
  [32.75,30.0],[32.9,31.0],[33.3,29.3],[33.81,31.5],[34.2,28.9],[35.85,28.5],[36.44,30.4],[36.9,28.5],[38.58,28.2],[39.67,28.9],
  [40.29,27.8],[40.97,28.0],[42.67,27.6],[43.8,27.8],[44.17,29.7],[44.5,27.8],[45.4,27.4],[46.08,28.9],[46.6,28.4],[48.5,28.3],
  [50.0,28.5],[50.7,36.0],[51.4,28.5],[53,28.4],[54.8,32.0],[56,28.3],[60,28.3],[70,28.2],[75,28.1],[80,28.1]
];

// Legend entries (text as drawn)
const legendLabels = ['DATA', 'TOTAL MODEL', 'data - model', 'CoSb<sub>3</sub>', 'CoSb<sub>2</sub>', 'CoSb<sub>2</sub>O<sub>4</sub>', 'Sb<sub>2</sub>O<sub>3</sub>'];
const sampleNames = ['NC', 'NC 400'];
const panelTags = ['(a)', '(b)'];

// ---------------------------------------------------------------------------
const W = 655, H = 851;
const fx = p => p / W;        // pixel column -> paper x
const fy = p => 1 - p / H;    // pixel row -> paper y

const COL = {
  obs: '#808080', calc: '#000000', diff: '#808080',
  cosb3: '#2e9e5e', cosb2: '#ee3a3a', cosb2o4: '#b07ce0', sb2o3: '#1c6de4'
};
const FONT = 'Liberation Sans, Arial, Helvetica, sans-serif';

const xs = pts => pts.map(p => p[0]);
const ys = pts => pts.map(p => p[1]);

function lineTrace(pts, xa, ya, color, width) {
  return { x: xs(pts), y: ys(pts), xaxis: xa, yaxis: ya, type: 'scatter', mode: 'lines',
           line: { color: color, width: width }, hoverinfo: 'skip', showlegend: false };
}
function obsTrace(pts, xa, ya) {
  return { x: xs(pts), y: ys(pts), xaxis: xa, yaxis: ya, type: 'scatter', mode: 'markers',
           marker: { symbol: 'circle-open', size: 6, color: COL.obs, line: { width: 1.6, color: COL.obs } },
           hoverinfo: 'skip', showlegend: false };
}

const samples = [
  { obs: ncObs, calc: ncCalc, diff: ncDiff, p1: ncCoSb3, p2: ncCoSb2, p3: ncCoSb2O4, p4: ncSb2O3,
    axes: [['x', 'y'], ['x2', 'y2']] },
  { obs: nc400Obs, calc: nc400Calc, diff: nc400Diff, p1: nc400CoSb3, p2: nc400CoSb2, p3: nc400CoSb2O4, p4: nc400Sb2O3,
    axes: [['x3', 'y3'], ['x4', 'y4']] }
];

const traces = [];
samples.forEach(s => {
  s.axes.forEach(([xa, ya]) => {
    traces.push(obsTrace(s.obs, xa, ya));
    traces.push(lineTrace(s.diff, xa, ya, COL.diff, 2.6));
    traces.push(lineTrace(s.calc, xa, ya, COL.calc, 2.6));
    traces.push(lineTrace(s.p1, xa, ya, COL.cosb3, 2.4));
    traces.push(lineTrace(s.p2, xa, ya, COL.cosb2, 2.4));
    traces.push(lineTrace(s.p3, xa, ya, COL.cosb2o4, 2.4));
    traces.push(lineTrace(s.p4, xa, ya, COL.sb2o3, 2.4));
  });
});

// ----- axes -----
const rows = [ { top: 58, bottom: 369, mainY: [0, 311], zoomY: [42.55, 81.8] },
               { top: 466, bottom: 778, mainY: [0, 312], zoomY: [25.7, 66.0] } ];

function xAxis(domainPx, range, dtick, anchor) {
  return {
    domain: [fx(domainPx[0]), fx(domainPx[1])], range: range, anchor: anchor,
    showline: true, mirror: true, linecolor: '#000', linewidth: 2,
    ticks: 'outside', ticklen: 6, tickwidth: 2, tickcolor: '#000',
    tick0: 0, dtick: dtick,
    minor: { ticks: 'outside', ticklen: 4, tickwidth: 2, tickcolor: '#000', tick0: 0, dtick: dtick / 2 },
    tickfont: { size: 23, color: '#000', family: FONT }, ticklabelstandoff: 2,
    showgrid: false, zeroline: false,
    title: { text: '2<i>θ</i> (°)', font: { size: 25, color: '#000', family: FONT }, standoff: 4 }
  };
}
function yAxis(row, range, anchor, withTitle) {
  const ax = {
    domain: [fy(row.bottom), fy(row.top)], range: range, anchor: anchor,
    showline: true, mirror: true, linecolor: '#000', linewidth: 2,
    ticks: '', showticklabels: false, showgrid: false, zeroline: false
  };
  if (withTitle) ax.title = { text: 'Intensity (arb. units)', font: { size: 29, color: '#000', family: FONT }, standoff: 10 };
  return ax;
}

const MAINX = [14.85, 82.1], ZOOMX = [26.04, 46.1];
const layout = {
  width: W, height: H, margin: { l: 0, r: 0, t: 0, b: 0 },
  paper_bgcolor: '#fff', plot_bgcolor: '#fff', showlegend: false,
  font: { family: FONT, size: 16, color: '#000' },
  xaxis:  xAxis([62, 454], MAINX, 10, 'y'),
  yaxis:  yAxis(rows[0], rows[0].mainY, 'x', true),
  xaxis2: xAxis([454, 650], ZOOMX, 5, 'y2'),
  yaxis2: yAxis(rows[0], rows[0].zoomY, 'x2', false),
  xaxis3: xAxis([62, 454], MAINX, 10, 'y3'),
  yaxis3: yAxis(rows[1], rows[1].mainY, 'x3', true),
  xaxis4: xAxis([454, 650], ZOOMX, 5, 'y4'),
  yaxis4: yAxis(rows[1], rows[1].zoomY, 'x4', false),
  shapes: [], annotations: []
};

// shaded zoom window on the full-range plots and grey background of the zoomed plots
[['x', 'y', 'x2', 'y2'], ['x3', 'y3', 'x4', 'y4']].forEach(([xm, ym, xz, yz]) => {
  layout.shapes.push({ type: 'rect', layer: 'below', xref: xm, yref: ym + ' domain', x0: 25.52, x1: 44.83, y0: 0, y1: 1,
                       fillcolor: '#d3d3d3', line: { color: '#000', width: 1.5 } });
  layout.shapes.push({ type: 'rect', layer: 'below', xref: xz + ' domain', yref: yz + ' domain', x0: 0, x1: 1, y0: 0, y1: 1,
                       fillcolor: '#d3d3d3', line: { width: 0 } });
});

// panel tags
[[32, 35], [33, 443]].forEach(([cx, cy], i) => {
  layout.annotations.push({ text: panelTags[i], xref: 'paper', yref: 'paper', x: fx(cx), y: fy(cy),
                            xanchor: 'center', yanchor: 'middle', showarrow: false,
                            font: { size: 32, color: '#000', family: FONT } });
});

// legends
const legendBoxes = [
  { titleY: 82.5, x0: 266, x1: 303, mx: 283.5, tx: 306, rowsY: [109.3, 130.7, 154.3, 175.7, 202.7, 230, 255] },
  { titleY: 492, x0: 270, x1: 306, mx: 287.5, tx: 310, rowsY: [519, 540, 562.7, 584.7, 611.7, 639, 665.7] }
];
const keyColors = [COL.obs, COL.calc, COL.diff, COL.cosb3, COL.cosb2, COL.cosb2o4, COL.sb2o3];
legendBoxes.forEach((b, i) => {
  layout.annotations.push({ text: '<b>' + sampleNames[i] + '</b>', xref: 'paper', yref: 'paper',
                            x: fx(b.x0), y: fy(b.titleY), xanchor: 'left', yanchor: 'middle', showarrow: false,
                            font: { size: 23, color: '#000', family: FONT } });
  b.rowsY.forEach((ry, k) => {
    if (k === 0) {
      const r = 3.2;
      layout.shapes.push({ type: 'circle', xref: 'paper', yref: 'paper',
                           x0: fx(b.mx - r), x1: fx(b.mx + r), y0: fy(ry + r), y1: fy(ry - r),
                           line: { color: COL.obs, width: 1.6 } });
    } else {
      layout.shapes.push({ type: 'line', xref: 'paper', yref: 'paper',
                           x0: fx(b.x0), x1: fx(b.x1), y0: fy(ry), y1: fy(ry),
                           line: { color: keyColors[k], width: 3.2 } });
    }
    const hasSub = legendLabels[k].indexOf('<sub>') >= 0;
    layout.annotations.push({ text: legendLabels[k], xref: 'paper', yref: 'paper',
                              x: fx(b.tx), y: fy(ry + (hasSub ? 2.5 : 0)), xanchor: 'left', yanchor: 'middle',
                              showarrow: false, font: { size: 16, color: '#000', family: FONT } });
  });
});

Plotly.newPlot('chart', traces, layout, { displayModeBar: false, responsive: false });
</script>
</body>
</html>
